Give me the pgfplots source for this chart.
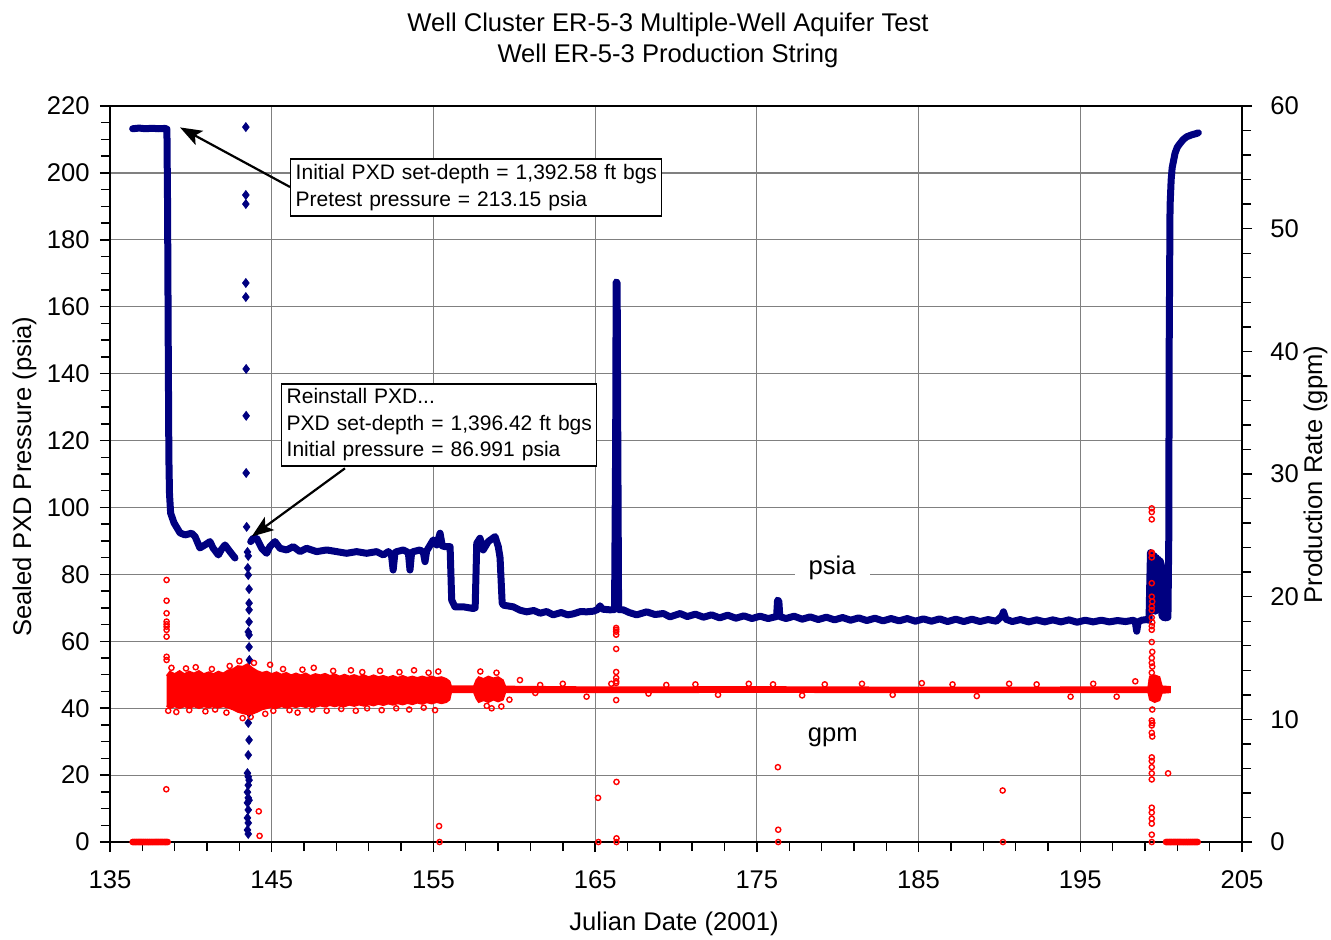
\documentclass[border=0pt]{standalone}
\usepackage{fontspec}
\setmainfont{Liberation Sans}
\usepackage{pgfplots}
\pgfplotsset{compat=1.18}
\usetikzlibrary{arrows.meta}
\definecolor{navyb}{RGB}{0,0,128}
\definecolor{redp}{RGB}{255,0,0}
\newcommand{\fs}{\fontsize{12.8}{15}\selectfont}
\newcommand{\fa}{\fontsize{10.5}{13.4}\selectfont}
\begin{document}
\begin{tikzpicture}
\begin{axis}[
  at={(0pt,0pt)}, anchor=south west,
  scale only axis, width=566pt, height=368pt,
  xmin=135, xmax=205, ymin=0, ymax=220,
  xtick={135,145,...,205}, ytick={0,20,...,220},
  minor x tick num=4, minor y tick num=3,
  tick align=outside, xtick pos=bottom, ytick pos=left,
  major tick length=5pt, minor tick length=4.5pt,
  grid=major, major grid style={black!50, line width=0.6pt},
  axis line style={line width=0.8pt},
  every tick/.style={black, line width=0.7pt},
  tick label style={font=\fs, inner sep=0pt},
  xticklabel style={anchor=base, yshift=-18pt},
  yticklabel style={anchor=east, xshift=-5pt},
  /pgf/number format/assume math mode=true,
  clip=false,
]
% pressure, first section
\addplot[navyb, line width=3.5pt, line join=round, line cap=round] coordinates {
(136.40,213.2) (136.8,213.4) (137.2,213.2) (137.6,213.35) (138.0,213.2) (138.4,213.3)
(138.52,213.1) (138.56,190) (138.60,150) (138.64,115) (138.68,104) (138.75,98.3)
(138.96,95.4) (139.33,92.4) (139.64,91.8) (140.05,92.3) (140.26,91.3) (140.56,87.9)
(140.87,88.8) (141.18,89.8) (141.37,87.9) (141.70,85.8) (141.90,87.5) (142.11,88.8)
(142.42,86.8) (142.73,84.9)
};
% pressure, after reinstall
\addplot[navyb, line width=3.5pt, line join=round, line cap=round] coordinates {
(143.70,89.8) (143.86,90.8) (144.07,90.8) (144.38,87.8) (144.69,86.3) (144.89,88.3)
(145.20,89.8) (145.51,87.8) (145.92,87.3) (146.33,88.3) (146.75,86.8) (147.16,87.8)
(147.78,86.8) (148.40,87.3) (149.02,86.8) (149.63,86.3) (150.25,86.8) (150.87,86.3)
(151.49,86.8) (151.90,85.8) (152.21,86.8) (152.40,86.0) (152.51,81.3) (152.62,86.5)
(152.73,86.8) (153.14,87.3) (153.45,86.5) (153.55,81.3) (153.65,86.5) (153.76,86.8)
(154.17,87.3) (154.38,86.5) (154.48,83.8) (154.58,87.0) (154.68,87.8) (154.99,90.3)
(155.20,88.8) (155.41,92.3) (155.55,88.5) (155.72,88.3) (156.03,88.3) (156.13,72.3)
(156.33,70.3) (156.85,70.3) (157.46,69.8) (157.58,70.0) (157.68,89.3) (157.88,90.8)
(158.08,87.3) (158.39,89.8) (158.81,91.3) (159.01,88.3) (159.12,85.0) (159.25,71.5)
(159.32,70.8) (159.94,70.3) (160.35,69.3) (160.76,68.8) (161.2,69.2) (161.6,68.4)
(162.0,68.9) (162.4,67.9) (162.9,68.6) (163.3,67.9) (163.65,68.2) (164.1,68.9)
(164.47,68.8) (164.9,69.0) (165.15,69.5) (165.30,70.6) (165.45,69.6) (165.92,69.4)
(166.20,69.5) (166.27,120) (166.30,167.4) (166.36,167.2) (166.40,120) (166.45,69.5)
(166.74,69.4) (167.1,68.6) (167.57,67.9) (168.19,68.8) (168.7,68.0) (169.22,68.3)
(169.63,67.3) (170.25,68.3) (170.7,67.4) (171.2,68.1) (171.7,67.2) (172.2,67.9)
(172.7,67.0) (173.2,67.8) (173.7,66.9) (174.2,67.6) (174.7,66.8) (175.2,67.5)
(175.7,66.8) (176.22,67.4) (176.28,72.3) (176.36,72.0) (176.42,67.4) (176.8,66.8)
(177.3,67.5) (177.8,66.6) (178.3,67.3) (178.8,66.5) (179.3,67.2) (179.8,66.4)
(180.3,67.1) (180.8,66.3) (181.3,67.0) (181.8,66.2) (182.3,66.9) (182.8,66.1)
(183.3,66.8) (183.8,66.1) (184.3,66.8) (184.8,66.0) (185.3,66.7) (185.8,66.0)
(186.3,66.7) (186.8,65.9) (187.3,66.6) (187.8,65.9) (188.3,66.6) (188.8,65.9)
(189.3,66.5) (189.8,66.0) (190.15,67.5) (190.25,68.8) (190.4,66.6) (190.8,65.9)
(191.3,66.5) (191.8,65.8) (192.3,66.4) (192.8,65.8) (193.3,66.4) (193.8,65.8)
(194.3,66.4) (194.8,65.7) (195.3,66.3) (195.8,65.8) (196.3,66.3) (196.8,65.8)
(197.3,66.2) (197.8,65.9) (198.3,66.3) (198.40,65.8) (198.49,63.0) (198.58,65.8)
(198.8,66.3) (199.1,66.5) (199.25,66.3) (199.30,78) (199.34,86.5) (199.40,72)
(199.46,86) (199.52,70) (199.58,85.5) (199.64,69) (199.70,85) (199.76,70)
(199.82,84.5) (199.88,72) (199.94,84) (200.00,83) (200.04,68) (200.10,67.2)
(200.30,67.0) (200.42,67.2) (200.47,90) (200.50,150) (200.55,190) (200.62,198)
(200.68,201.5) (200.86,205.9) (201.00,207.7) (201.17,208.8) (201.35,209.9)
(201.58,210.8) (201.90,211.4) (202.20,211.8) (202.30,212.0)
};
% pressure, sparse readings while the PXD was pulled
\addplot[navyb, only marks, mark=diamond*, mark size=2.2pt] coordinates {
(143.40,213.7) (143.40,193.4) (143.40,190.7) (143.40,167.1) (143.40,162.9)
(143.42,141.4) (143.42,127.4) (143.42,110.3) (143.45,94.2) (143.50,86.7)
(143.55,85.5) (143.52,81.9) (143.55,79.8) (143.60,75.6) (143.60,71.4)
(143.60,69.4) (143.60,65.8) (143.55,62.8) (143.60,61.9) (143.60,58.3)
(143.62,54.4) (143.60,50.0) (143.60,46.0) (143.60,43.3) (143.60,38.6)
(143.55,35.6) (143.60,30.5) (143.55,26.0) (143.50,20.6) (143.55,19.5)
(143.60,18.5) (143.55,17.0) (143.50,14.9) (143.55,13.2) (143.60,12.5)
(143.50,11.7) (143.55,9.6) (143.50,7.2) (143.55,5.7) (143.50,3.6) (143.55,2.4)
};
% annotations
\node[draw, line width=0.75pt, fill=white, anchor=north west, align=left,
  font=\fa, text width=180.5pt, inner xsep=2.5pt, inner ysep=2pt,
  minimum height=28.5pt] at (axis cs:146.13,204.45)
  {\mbox{Initial PXD set-depth = 1,392.58 ft bgs}\\\mbox{Pretest pressure = 213.15 psia}};
\draw[line width=1.1pt, -{Stealth[length=11pt,width=8pt,inset=2.5pt]}]
  (axis cs:146.13,195.8) -- (axis cs:139.33,213.6);
\node[draw, line width=0.75pt, fill=white, anchor=north west, align=left,
  font=\fa, text width=152.5pt, inner xsep=2.5pt, inner ysep=2pt,
  minimum height=41pt] at (axis cs:145.57,137.2)
  {\mbox{Reinstall PXD...}\\\mbox{PXD set-depth = 1,396.42 ft bgs}\\\mbox{Initial pressure = 86.991 psia}};
\draw[line width=1.1pt, -{Stealth[length=11pt,width=8pt,inset=2.5pt]}]
  (axis cs:149.53,111.7) -- (axis cs:143.76,91.3);
\node[fill=white, font=\fs, inner xsep=7pt, inner ysep=1pt] at (axis cs:179.65,81.9) {psia};
\node[fill=white, font=\fs, inner xsep=4pt, inner ysep=1pt] at (axis cs:179.7,31.4) {gpm};
\end{axis}

\begin{axis}[
  at={(0pt,0pt)}, anchor=south west,
  scale only axis, width=566pt, height=368pt,
  xmin=135, xmax=205, ymin=0, ymax=60,
  axis x line=none, axis y line*=right,
  ytick={0,10,...,60}, minor y tick num=4,
  tick align=outside,
  major tick length=5pt, minor tick length=4.5pt,
  axis line style={line width=0.8pt},
  every tick/.style={black, line width=0.7pt},
  tick label style={font=\fs, inner sep=0pt},
  yticklabel style={anchor=west, xshift=9pt},
  /pgf/number format/assume math mode=true,
  clip=false,
]
% production rate: dense band of readings
\addplot[fill=redp, draw=redp, line width=0.8pt] coordinates {
(138.50,13.55) (138.7,13.9) (139.0,13.7) (139.3,13.95) (139.6,13.7) (139.9,13.9)
(140.2,13.75) (140.5,13.95) (140.8,13.7) (141.1,13.85) (141.4,13.7) (141.7,13.9)
(142.0,13.75) (142.3,14.0) (142.6,14.1) (142.9,14.35) (143.2,14.3) (143.5,14.5)
(143.8,14.2) (144.1,13.95) (144.4,13.8) (144.7,13.9) (145.0,13.7) (145.3,13.85)
(145.6,13.65) (145.9,13.8) (146.2,13.6) (146.5,13.75) (146.8,13.6) (147.1,13.75)
(147.4,13.55) (147.7,13.7) (148.0,13.6) (148.3,13.72) (148.6,13.55) (148.9,13.68)
(149.2,13.5) (149.5,13.65) (149.8,13.5) (150.1,13.62) (150.4,13.48) (150.7,13.6)
(151.0,13.45) (151.3,13.6) (151.6,13.45) (151.9,13.55) (152.2,13.42) (152.5,13.55)
(152.8,13.4) (153.1,13.55) (153.4,13.4) (153.7,13.5) (154.0,13.38) (154.3,13.5)
(154.6,13.4) (154.9,13.5) (155.2,13.38) (155.5,13.45) (155.8,13.3) (156.0,13.1)
(156.1,12.7) (157.5,12.7) (157.65,13.2) (157.8,13.45) (158.1,13.3) (158.4,13.5)
(158.7,13.35) (159.0,13.45) (159.3,13.2) (159.45,12.68) (165,12.62) (175,12.64)
(185,12.6) (199.2,12.62) (199.3,13.5)
(199.6,13.6) (199.9,13.45) (200.05,12.7) (200.55,12.65)
(200.55,12.2) (200.05,12.15) (199.9,11.55) (199.6,11.4) (199.3,11.6) (199.2,12.2)
(185,12.2) (175,12.22) (165,12.2)
(159.45,12.2) (159.3,11.6) (159.0,11.45) (158.7,11.6) (158.4,11.4) (158.1,11.55)
(157.8,11.4) (157.65,11.7) (157.5,12.2) (156.1,12.2) (156.0,11.6) (155.8,11.4)
(155.5,11.3) (155.2,11.4) (154.9,11.28) (154.6,11.38) (154.3,11.25) (154.0,11.35)
(153.7,11.22) (153.4,11.32) (153.1,11.2) (152.8,11.3) (152.5,11.18) (152.2,11.28)
(151.9,11.15) (151.6,11.25) (151.3,11.12) (151.0,11.22) (150.7,11.1) (150.4,11.2)
(150.1,11.08) (149.8,11.18) (149.5,11.05) (149.2,11.15) (148.9,11.05) (148.6,11.15)
(148.3,11.02) (148.0,11.12) (147.7,11.0) (147.4,11.1) (147.1,10.98) (146.8,11.1)
(146.5,10.98) (146.2,11.08) (145.9,10.95) (145.6,11.05) (145.3,10.92) (145.0,11.02)
(144.7,10.9) (144.4,10.8) (144.1,10.6) (143.8,10.45) (143.5,10.4) (143.2,10.5)
(142.9,10.6) (142.6,10.8) (142.3,10.95) (142.0,11.05) (141.7,10.95) (141.4,11.08)
(141.1,10.95) (140.8,11.05) (140.5,10.9) (140.2,11.05) (139.9,10.92) (139.6,11.05)
(139.3,10.9) (139.0,11.05) (138.7,10.9) (138.5,11.1)
};
% production rate: individual readings
\addplot[redp, only marks, mark=o, mark size=1.3pt, mark options={line width=0.7pt}] coordinates {
(136.40,0) (136.47,0) (136.54,0) (136.61,0) (136.68,0) (136.75,0) (136.82,0) (136.89,0)
(136.96,0) (137.03,0) (137.10,0) (137.17,0) (137.24,0) (137.31,0) (137.38,0) (137.45,0)
(137.52,0) (137.59,0) (137.66,0) (137.73,0) (137.80,0) (137.87,0) (137.94,0) (138.01,0)
(138.08,0) (138.15,0) (138.22,0) (138.29,0) (138.36,0) (138.43,0) (138.50,0) (138.57,0)
(138.50,21.36) (138.50,19.67) (138.50,18.65) (138.50,17.97) (138.50,17.75) (138.50,17.55)
(138.50,17.29) (138.50,16.74) (138.50,15.1) (138.50,14.84) (138.48,4.3)
(138.6,10.7) (139.1,10.6) (139.9,10.75) (140.9,10.65) (141.5,10.8) (142.2,10.55)
(143.2,10.1) (143.7,10.2) (144.6,10.45) (145.1,10.7) (146.1,10.75) (146.6,10.55)
(147.5,10.8) (148.4,10.7) (149.3,10.85) (150.2,10.7) (150.9,10.9) (151.8,10.75)
(152.7,10.9) (153.5,10.8) (154.4,10.95) (155.1,10.75)
(138.8,14.2) (139.7,14.15) (140.3,14.25) (141.3,14.1) (142.4,14.35) (143.0,14.75)
(143.9,14.6) (144.9,14.45) (145.7,14.1) (146.9,14.05) (147.6,14.2) (148.8,13.95)
(149.9,14.0) (150.6,13.85) (151.7,13.95) (152.9,13.85) (153.8,14.0) (154.7,13.8)
(155.3,13.9)
(144.20,2.5) (144.25,0.5)
(155.35,1.3) (155.38,0)
(157.9,13.9) (158.3,11.1) (158.9,13.8) (159.2,11.05) (158.6,10.9) (159.7,11.6)
(160.35,13.2) (161.3,12.15) (161.6,12.8) (163.0,12.9) (164.47,11.85) (166.0,12.9)
(168.3,12.1) (169.4,12.8) (171.2,12.85) (172.6,12.0) (174.5,12.9) (176.0,12.85)
(177.8,11.95) (179.2,12.85) (181.5,12.9) (183.4,12.0) (185.2,12.95) (187.1,12.85)
(188.6,11.9) (190.6,12.9) (192.3,12.85) (194.4,11.85) (195.8,12.9) (197.25,11.85)
(198.4,13.1)
(165.18,3.6) (165.20,0)
(166.30,17.45) (166.30,17.3) (166.30,17.15) (166.30,16.9) (166.30,15.74) (166.30,13.86)
(166.30,13.37) (166.30,13.1) (166.30,12.96) (166.30,11.57) (166.32,4.9) (166.32,0.3) (166.32,0)
(176.30,6.1) (176.32,1.0) (176.32,0)
(190.20,4.2) (190.22,0)
(199.42,27.2) (199.42,26.9) (199.42,26.3) (199.42,23.6) (199.42,23.5) (199.42,23.2)
(199.42,21.1) (199.42,20.0) (199.45,19.6) (199.42,19.2) (199.42,18.9) (199.42,18.3)
(199.45,17.9) (199.42,17.6) (199.42,17.3) (199.42,16.3) (199.45,15.5) (199.42,15.0)
(199.42,14.6) (199.45,14.3) (199.42,13.8) (199.42,13.2) (199.45,10.8) (199.42,9.9)
(199.45,9.7) (199.42,9.5) (199.42,8.9) (199.45,8.6) (199.42,6.9) (199.42,6.6)
(199.42,6.1) (199.42,5.6) (199.42,5.1) (199.42,2.8) (199.42,2.4) (199.42,1.9)
(199.42,1.5) (199.42,0.6) (199.42,0)
(200.43,5.6)
(200.30,0) (200.37,0) (200.44,0) (200.51,0) (200.58,0) (200.65,0) (200.72,0) (200.79,0)
(200.86,0) (200.93,0) (201.00,0) (201.07,0) (201.14,0) (201.21,0) (201.28,0) (201.35,0)
(201.42,0) (201.49,0) (201.56,0) (201.63,0) (201.70,0) (201.77,0) (201.84,0) (201.91,0)
(201.98,0) (202.05,0) (202.12,0) (202.19,0) (202.26,0)
};
\end{axis}
\node[font=\fs, anchor=base] at (279pt,405.4pt) {Well Cluster ER-5-3 Multiple-Well Aquifer Test};
\node[font=\fs, anchor=base] at (279pt,389.9pt) {Well ER-5-3 Production String};
\node[font=\fs, anchor=base] at (282pt,-44.1pt) {Julian Date (2001)};
\node[font=\fs, anchor=base, rotate=90] at (-39.4pt,182.75pt) {Sealed PXD Pressure (psia)};
\node[font=\fs, anchor=base, rotate=90] at (606pt,183.75pt) {Production Rate (gpm)};
\pgfresetboundingbox
\path[use as bounding box] (-55pt,-48.5pt) rectangle (610.5pt,421pt);
\end{tikzpicture}
\end{document}
